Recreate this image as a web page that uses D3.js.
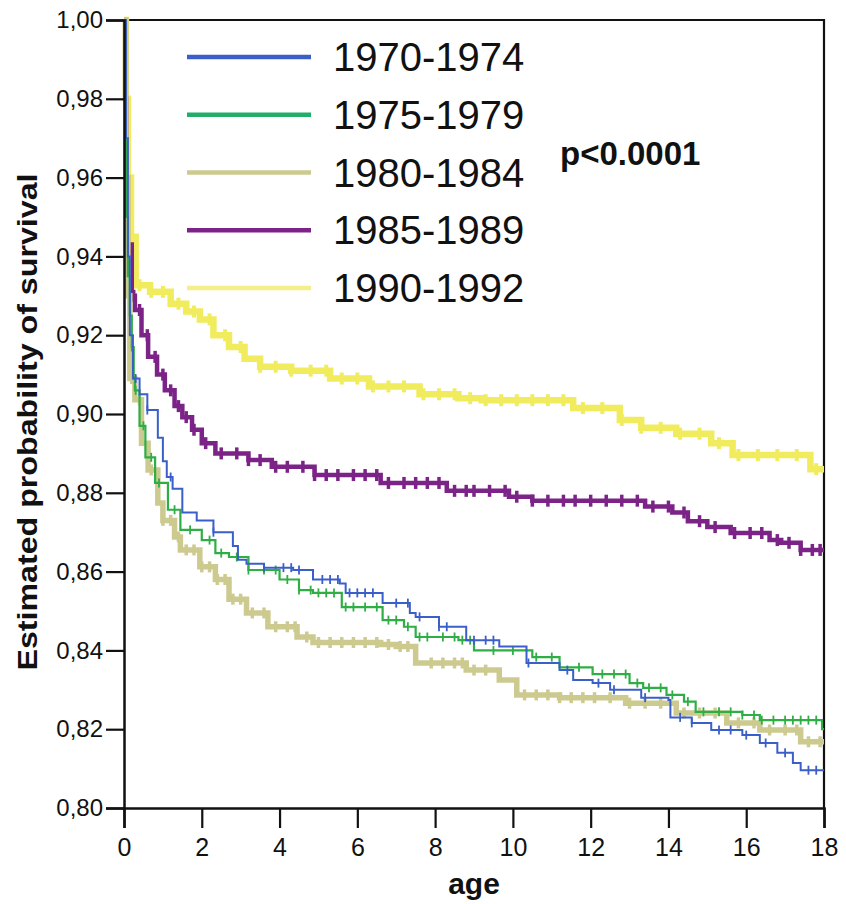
<!DOCTYPE html>
<html>
<head>
<meta charset="utf-8">
<script src="https://cdn.jsdelivr.net/npm/d3@7"></script>
<style>
  html, body { margin: 0; padding: 0; background: #fff; }
  svg { display: block; font-family: "Liberation Sans", Arial, sans-serif; }
</style>
</head>
<body>
<svg id="chart" width="846" height="904"></svg>
<script>
// ---------- data ----------
const seriesNames = ["1970-1974", "1975-1979", "1980-1984", "1985-1989", "1990-1992"];

const s1970 = [[0,1.0],[0.05,0.97],[0.1,0.94],[0.15,0.92],[0.23,0.909],[0.4,0.905],[0.6,0.901],[0.87,0.894],[1.0,0.888],[1.1,0.884],[1.25,0.881],[1.5,0.875],[1.87,0.873],[2.3,0.870],[2.8,0.8665],[2.93,0.863],[3.15,0.862],[3.6,0.861],[4.35,0.8604],[4.86,0.858],[5.55,0.857],[5.7,0.8546],[6.65,0.852],[7.35,0.8495],[7.5,0.8485],[8.1,0.846],[8.8,0.8426],[9.65,0.841],[10.35,0.8368],[11.2,0.835],[11.55,0.8325],[12.05,0.8317],[12.5,0.830],[13.3,0.828],[14.0,0.8274],[14.05,0.823],[14.6,0.8216],[15.1,0.8198],[15.9,0.8185],[16.35,0.8165],[16.8,0.814],[17.2,0.8114],[17.4,0.8096],[18,0.8096]];
const s1975 = [[0,1.0],[0.05,0.95],[0.1,0.935],[0.15,0.925],[0.2,0.917],[0.25,0.909],[0.28,0.906],[0.4,0.897],[0.55,0.889],[0.8,0.8825],[1.13,0.8757],[1.45,0.8706],[2.0,0.868],[2.35,0.8647],[2.7,0.8637],[3.2,0.8604],[4.0,0.858],[4.5,0.8553],[4.86,0.8546],[5.6,0.851],[6.65,0.8477],[7.2,0.846],[7.5,0.8434],[8.6,0.8426],[9.0,0.840],[10.5,0.8383],[11.2,0.8357],[12.05,0.834],[13.0,0.8317],[13.35,0.8305],[13.95,0.8287],[14.4,0.827],[14.7,0.8244],[15.9,0.8236],[16.35,0.8223],[17.95,0.820],[18,0.820]];
const s1980 = [[0,1.0],[0.05,0.96],[0.1,0.93],[0.15,0.909],[0.28,0.9036],[0.45,0.8926],[0.62,0.8858],[0.87,0.8774],[1.0,0.873],[1.3,0.8688],[1.45,0.8655],[1.95,0.8612],[2.35,0.858],[2.7,0.853],[3.15,0.8495],[3.7,0.846],[4.45,0.8434],[4.86,0.842],[6.6,0.8415],[7.0,0.841],[7.5,0.8368],[8.8,0.835],[9.65,0.8325],[10.1,0.8287],[11.2,0.828],[12.9,0.8266],[14.2,0.8241],[15.5,0.8216],[16.35,0.8198],[17.4,0.8168],[18,0.8168]];
const s1985 = [[0,1.0],[0.03,0.98],[0.06,0.96],[0.1,0.943],[0.2,0.93],[0.28,0.9264],[0.45,0.92],[0.62,0.9145],[0.85,0.91],[1.05,0.906],[1.3,0.902],[1.5,0.8992],[1.75,0.896],[2.0,0.8926],[2.35,0.890],[3.2,0.8883],[3.8,0.8866],[4.9,0.8845],[6.6,0.8825],[8.3,0.8805],[9.9,0.879],[10.5,0.878],[13.4,0.8765],[14.1,0.875],[14.5,0.8728],[15.0,0.8713],[15.6,0.8698],[16.6,0.868],[16.9,0.8673],[17.4,0.8655],[18,0.8655]];
const s1990 = [[0,1.0],[0.05,0.98],[0.1,0.96],[0.18,0.945],[0.3,0.9327],[0.67,0.931],[1.2,0.928],[1.6,0.926],[1.95,0.924],[2.3,0.92],[2.7,0.917],[3.1,0.914],[3.5,0.912],[4.3,0.911],[5.3,0.909],[6.3,0.907],[7.6,0.905],[8.6,0.904],[9.2,0.9035],[11.55,0.9015],[12.75,0.8985],[13.3,0.8965],[14.2,0.895],[15.1,0.8926],[15.65,0.8896],[17.65,0.886],[18,0.886]];

const cens1970 = [0.3,0.6,1.2,2.3,3.6,4.1,4.3,4.5,5.1,5.3,5.5,5.8,6.0,6.2,6.4,7.0,7.3,7.6,8.1,8.3,9.0,9.3,9.5,10.4,11.4,12.2,12.6,13.4,14.3,14.6,15.3,15.6,16.0,16.5,17.0,17.6,17.8];
const cens1975 = [0.2,0.3,0.5,0.7,0.9,1.3,1.7,2.2,2.5,2.9,3.2,3.6,3.9,4.2,4.5,4.8,5.0,5.2,5.4,5.7,5.9,6.2,6.5,6.8,7.0,7.3,7.6,7.8,8.2,8.5,8.7,8.9,9.5,10.0,10.6,11.0,11.7,12.3,12.6,12.9,13.2,13.5,13.8,14.1,14.5,14.9,15.3,15.6,15.9,16.2,16.4,16.7,17.0,17.2,17.4,17.6,17.8];
const cens1980 = [0.2,0.4,0.7,1.0,1.2,1.4,1.6,1.8,2.0,2.2,2.4,2.6,2.8,3.0,3.3,3.6,3.9,4.2,4.4,4.7,5.0,5.3,5.6,5.9,6.2,6.5,6.8,7.1,7.3,7.9,8.2,8.5,8.7,9.0,9.3,10.3,10.6,10.9,11.2,11.5,11.8,12.1,12.5,13.0,13.4,13.8,14.4,14.8,15.2,15.8,16.2,16.6,17.0,17.3,17.6,17.9];
const cens1985 = [0.1,0.25,0.4,0.6,0.8,1.0,1.2,1.4,1.6,1.8,2.1,2.5,2.9,3.2,3.5,3.9,4.2,4.6,4.9,5.2,5.5,5.9,6.2,6.5,6.8,7.2,7.5,7.8,8.1,8.5,8.8,9.0,9.4,9.8,10.1,10.5,10.9,11.3,11.6,12.0,12.4,12.8,13.2,13.6,14.0,14.4,14.8,15.2,15.7,16.1,16.4,16.8,17.1,17.4,17.7,17.9];
const cens1990 = [0.2,0.4,0.7,1.0,1.4,1.8,2.2,2.6,3.0,3.5,3.9,4.3,4.8,5.2,5.6,6.0,6.4,6.8,7.2,7.7,8.1,8.5,8.9,9.3,9.7,10.1,10.5,10.9,11.3,11.8,12.3,12.8,13.3,13.8,14.3,14.8,15.3,15.8,16.3,16.8,17.3,17.8];

const xTicks = [0, 2, 4, 6, 8, 10, 12, 14, 16, 18];
const yTicks = [0.80, 0.82, 0.84, 0.86, 0.88, 0.90, 0.92, 0.94, 0.96, 0.98, 1.00];
const xLabel = "age";
const yLabel = "Estimated probability of survival";
const pLabel = "p<0.0001";

// ---------- presentation ----------
const colors = ["#3a5fc8", "#2fae45", "#cdca90", "#7b2387", "#f1ec5e"];
const legendColors = ["#3a5fc8", "#22ad6a", "#cdca90", "#7b2387", "#f4ef8a"];
const widths = [2, 2.2, 5.5, 4.5, 6.5];
const markW = [1.8, 1.8, 3.5, 3.5, 4];
const markH = [9, 9, 11, 12, 12];

const svg = d3.select("#chart");
const L = 124, R = 824, T = 20, B = 808;
const x = d3.scaleLinear().domain([0, 18]).range([L, R]);
const y = d3.scaleLinear().domain([0.80, 1.00]).range([B, T]);

const allSeries = [s1970, s1975, s1980, s1985, s1990];
const allCens = [cens1970, cens1975, cens1980, cens1985, cens1990];

// frame (top and right)
svg.append("path")
  .attr("d", `M${L},${T}H${R}V${B}`)
  .attr("fill", "none").attr("stroke", "#111").attr("stroke-width", 2.2);

// curves, drawn back to front
const line = d3.line().x(d => x(d[0])).y(d => y(d[1])).curve(d3.curveStepAfter);
const bis = d3.bisector(d => d[0]).right;
const order = [4, 3, 2, 1, 0];
order.forEach(i => {
  const g = svg.append("g");
  g.append("path").datum(allSeries[i])
    .attr("d", line).attr("fill", "none")
    .attr("stroke", colors[i]).attr("stroke-width", widths[i])
    .attr("stroke-linejoin", "miter");
  g.selectAll("line.c").data(allCens[i]).join("line")
    .attr("class", "c")
    .attr("x1", t => x(t)).attr("x2", t => x(t))
    .attr("y1", t => { const s = allSeries[i][bis(allSeries[i], t) - 1][1]; return y(s) - markH[i] / 2; })
    .attr("y2", t => { const s = allSeries[i][bis(allSeries[i], t) - 1][1]; return y(s) + markH[i] / 2; })
    .attr("stroke", colors[i]).attr("stroke-width", markW[i]);
});

// axes
const yAxis = d3.axisLeft(y).tickValues(yTicks).tickSize(18).tickPadding(3)
  .tickFormat(d => d.toFixed(2).replace(".", ","));
const gy = svg.append("g").attr("transform", `translate(${L},0)`).call(yAxis);
gy.select(".domain").attr("stroke", "#111").attr("stroke-width", 2.5);
gy.selectAll(".tick line").attr("stroke", "#111").attr("stroke-width", 2.2);
gy.selectAll(".tick text").attr("font-size", 24).attr("fill", "#111")
  .attr("font-family", "'Liberation Sans', Arial, sans-serif");

const xAxis = d3.axisBottom(x).tickValues(xTicks).tickSize(20).tickPadding(10).tickFormat(d3.format("d"));
const gx = svg.append("g").attr("transform", `translate(0,${B})`).call(xAxis);
gx.select(".domain").attr("stroke", "#111").attr("stroke-width", 2.5);
gx.selectAll(".tick line").attr("stroke", "#111").attr("stroke-width", 2.2);
gx.selectAll(".tick text").attr("font-size", 25).attr("fill", "#111")
  .attr("font-family", "'Liberation Sans', Arial, sans-serif");

// axis titles
svg.append("text").attr("x", (L + R) / 2).attr("y", 894)
  .attr("text-anchor", "middle").attr("font-size", 30).attr("font-weight", "bold")
  .attr("fill", "#111").text(xLabel);
svg.append("text").attr("transform", `translate(37,${(T + B) / 2 + 8}) rotate(-90)`)
  .attr("text-anchor", "middle").attr("font-size", 28).attr("font-weight", "bold")
  .attr("textLength", 497).attr("lengthAdjust", "spacingAndGlyphs")
  .attr("fill", "#111").text(yLabel);

// legend
const lg = svg.append("g");
const rowY = d3.scalePoint().domain(seriesNames).range([57, 288]);
seriesNames.forEach((n, i) => {
  lg.append("line").attr("x1", 187).attr("x2", 311)
    .attr("y1", rowY(n)).attr("y2", rowY(n))
    .attr("stroke", legendColors[i]).attr("stroke-width", 4.5);
  lg.append("text").attr("x", 333).attr("y", rowY(n) + 14)
    .attr("font-size", 40).attr("fill", "#111").text(n);
});

// p-value
svg.append("text").attr("x", 560).attr("y", 165)
  .attr("font-size", 33).attr("font-weight", "bold").attr("fill", "#111").text(pLabel);
</script>
</body>
</html>
